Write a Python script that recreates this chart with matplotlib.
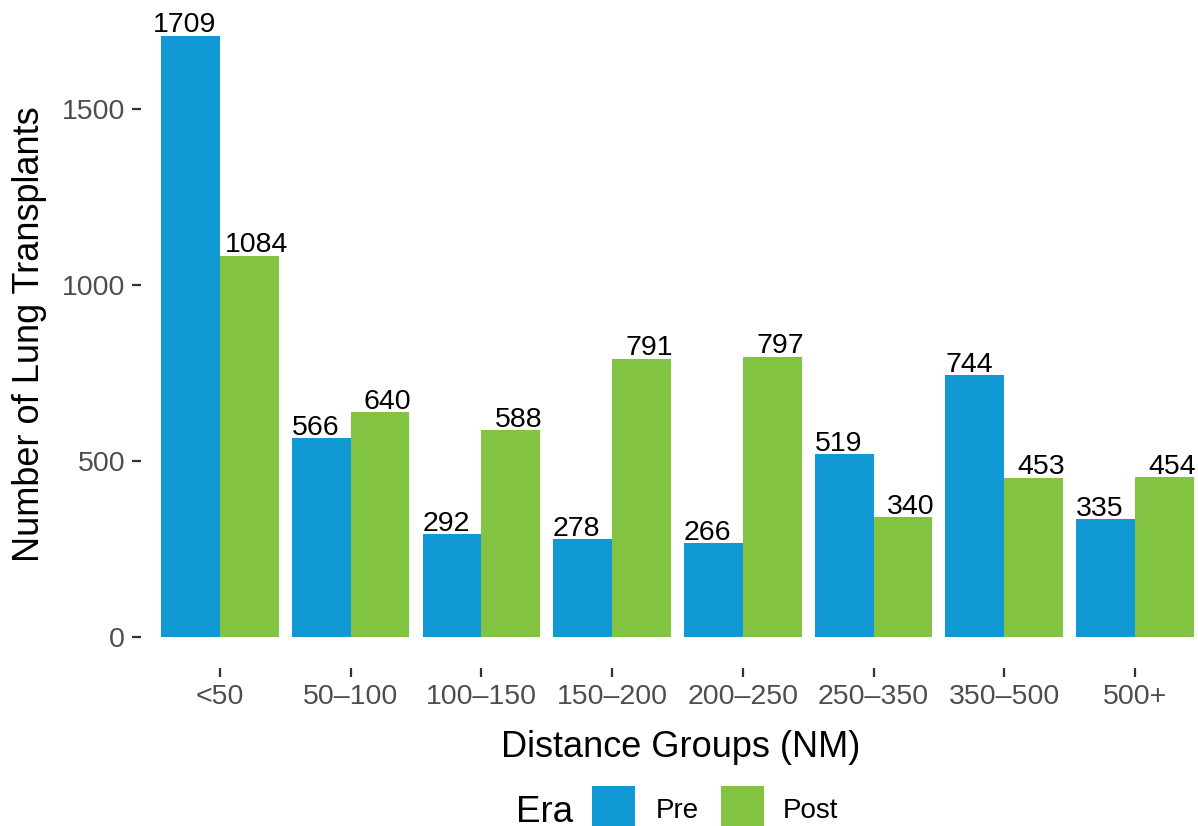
import matplotlib
matplotlib.use("Agg")
import matplotlib.pyplot as plt
from matplotlib.patches import Rectangle
import numpy as np

plt.rcParams['font.family'] = ['Liberation Sans', 'DejaVu Sans']

categories = ["<50", "50\u2013100", "100\u2013150", "150\u2013200", "200\u2013250", "250\u2013350", "350\u2013500", "500+"]
eras = ["Pre", "Post"]
pre_values = [1709, 566, 292, 278, 266, 519, 744, 335]
post_values = [1084, 640, 588, 791, 797, 340, 453, 454]
y_ticks = [0, 500, 1000, 1500]
colors = {"Pre": "#1199D6", "Post": "#82C341"}

W, H = 1198, 826
fig = plt.figure(figsize=(W / 100, H / 100), dpi=100)
fig.patch.set_facecolor("white")

def fx(px):
    return px / W

def fy(py):
    return 1 - py / H

# axes in pixel geometry
left, right, top, bottom = 141, 1198, 0, 668
ax = fig.add_axes([fx(left), fy(bottom), (right - left) / W, (bottom - top) / H])

x = np.arange(len(categories))
bw = 0.45
b1 = ax.bar(x - bw / 2, pre_values, bw, color=colors["Pre"], linewidth=0)
b2 = ax.bar(x + bw / 2, post_values, bw, color=colors["Post"], linewidth=0)

# value labels (slightly pushed outward from the group centre, as in the reference)
for bars, vals, dx in ((b1, pre_values, -4.3), (b2, post_values, 5.5)):
    for rect, v in zip(bars, vals):
        ax.annotate(str(v), (rect.get_x() + rect.get_width() / 2, rect.get_height()),
                    xytext=(dx, -2), textcoords="offset points", ha="center", va="bottom",
                    fontsize=20.5, color="black", annotation_clip=False)

ax.set_xlim(-0.604, 7.482)
ax.set_ylim(-88, 1810)
ax.set_xticks(x)
ax.set_xticklabels(categories)
ax.set_yticks(y_ticks)
ax.set_yticklabels([str(v) for v in y_ticks])
for s in ax.spines.values():
    s.set_visible(False)
ax.tick_params(axis="both", colors="#333333", labelcolor="#4D4D4D", labelsize=20.5,
               length=6.5, width=1.6, direction="out")
ax.tick_params(axis="y", pad=5)
ax.tick_params(axis="x", pad=5)
ax.set_facecolor("white")

# axis titles
fig.text(fx(681), fy(757), "Distance Groups (NM)", fontsize=26, ha="center", va="baseline", color="black")
fig.text(fx(29.5), fy(334), "Number of Lung Transplants", fontsize=26, ha="center", va="center",
         rotation=90, color="black")

# legend
fig.text(fx(516), fy(822), "Era", fontsize=26.5, ha="left", va="baseline", color="black")
key_x = [592, 721]
text_x = [656, 783]
for era, kx, tx in zip(eras, key_x, text_x):
    fig.patches.append(Rectangle((fx(kx), fy(829)), 43 / W, 43 / H, transform=fig.transFigure,
                                 facecolor=colors[era], edgecolor="none"))
    fig.text(fx(tx), fy(818), era, fontsize=20, ha="left", va="baseline", color="black")

fig.savefig("out.png", dpi=100, facecolor="white")
